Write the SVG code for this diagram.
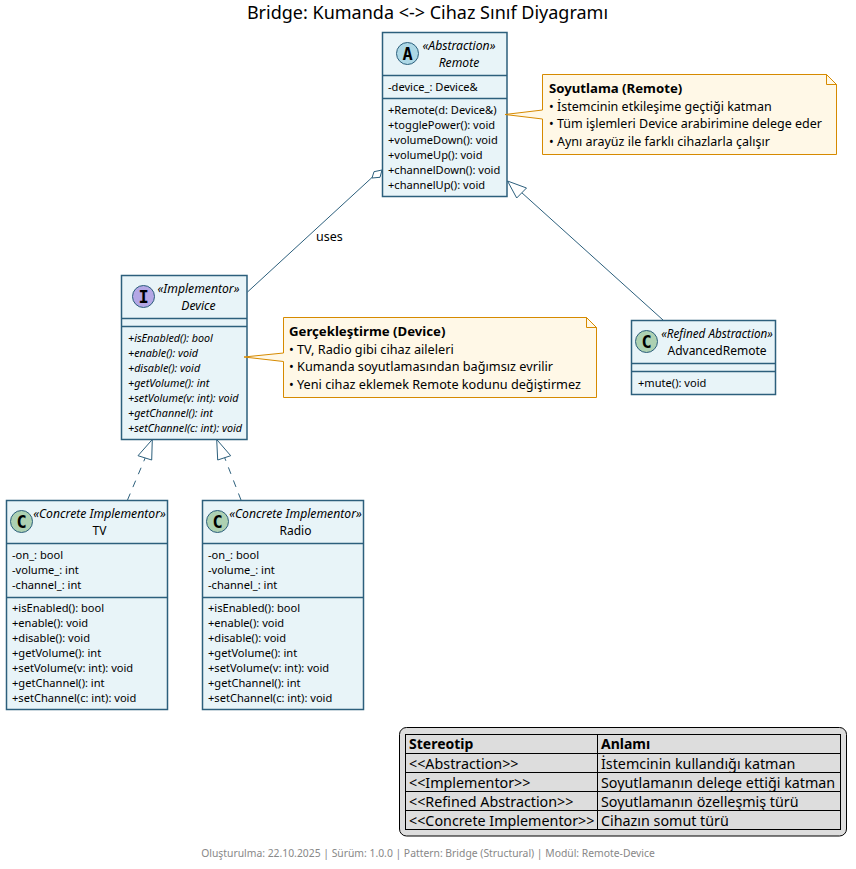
<svg xmlns="http://www.w3.org/2000/svg" width="856" height="869" viewBox="0 0 856 869">
<style>
text{font-family:"Noto Sans","DejaVu Sans",sans-serif;fill:#000}
.box{fill:#E8F4F8;stroke:#2C5F7C;stroke-width:1.5}
.div{stroke:#2C5F7C;stroke-width:1.5;fill:none}
.m{font-size:11.1px}
.i{font-size:10.75px;font-style:italic}
.s{font-size:12.2px;font-style:italic}
.n{font-size:12px}
.c{stroke:#2C5F7C;stroke-width:1;fill:none}
.h{stroke:#2C5F7C;stroke-width:1;fill:#fff}
.note{fill:#FFF8E7;stroke:#D68A00;stroke-width:1}
.nt{font-size:12.5px}
.nu{font-size:12.7px}
.nb{font-size:13.2px;font-weight:bold}
.lt{font-size:14.3px}
.lb{font-size:14px;font-weight:bold}
.cell{stroke:#000;stroke-width:1;fill:none}
.gl{font-family:"DejaVu Sans Mono","Liberation Mono",monospace;font-weight:bold;font-size:17px;text-anchor:middle}
.circ{stroke:#2C5F7C;stroke-width:1}
</style>
<text x="427.5" y="19" font-size="18" text-anchor="middle">Bridge: Kumanda &lt;-&gt; Cihaz Sınıf Diyagramı</text>
<g id="connectors">
<path class="c" d="M247.5,292 L372,177.5"/>
<path class="h" d="M382,170 L374,171.7 L372,178 L380,177.3 Z"/>
<path class="c" d="M663,320 L521,192"/>
<path class="h" d="M507.5,181 L526.5,188 L516.7,198 Z"/>
<path class="c" stroke-dasharray="7,7" d="M127.5,500 L146,456"/>
<path class="h" d="M152.3,439.5 L151.7,460 L138,455.7 Z"/>
<path class="c" stroke-dasharray="7,7" d="M241,500 L224,456"/>
<path class="h" d="M216.7,439.5 L230.7,455.7 L217.7,460 Z"/>
<text x="316" y="241" font-size="12.5">uses</text>
</g>
<g id="Remote">
<rect class="box" x="382.5" y="32.5" width="124.5" height="164"/>
<path class="div" d="M382.5,75.5H507M382.5,98.5H507"/>
<circle class="circ" cx="407.5" cy="53.5" r="11" fill="#ADD8E6"/>
<text class="gl" x="407.5" y="59.5">A</text>
<text class="s" x="459" y="50" text-anchor="middle">«Abstraction»</text>
<text class="s" x="459" y="67" text-anchor="middle">Remote</text>
<text class="m" x="388" y="91">-device_: Device&amp;</text>
<text class="m" x="388" y="114">+Remote(d: Device&amp;)</text>
<text class="m" x="388" y="129">+togglePower(): void</text>
<text class="m" x="388" y="144">+volumeDown(): void</text>
<text class="m" x="388" y="159">+volumeUp(): void</text>
<text class="m" x="388" y="174">+channelDown(): void</text>
<text class="m" x="388" y="189">+channelUp(): void</text>
</g>
<g id="Device">
<rect class="box" x="121.5" y="275.5" width="125.5" height="164"/>
<path class="div" d="M121.5,318.5H247M121.5,326.5H247"/>
<circle class="circ" cx="143.5" cy="296.5" r="11" fill="#B4A7E5"/>
<text class="gl" x="143.5" y="302.5">I</text>
<text class="s" x="198.5" y="293" text-anchor="middle">«Implementor»</text>
<text class="s" x="198.5" y="310" text-anchor="middle">Device</text>
<text class="i" x="128" y="342">+isEnabled(): bool</text>
<text class="i" x="128" y="357">+enable(): void</text>
<text class="i" x="128" y="372">+disable(): void</text>
<text class="i" x="128" y="387">+getVolume(): int</text>
<text class="i" x="128" y="402">+setVolume(v: int): void</text>
<text class="i" x="128" y="417">+getChannel(): int</text>
<text class="i" x="128" y="432">+setChannel(c: int): void</text>
</g>
<g id="AdvancedRemote">
<rect class="box" x="631.5" y="320.5" width="144" height="74"/>
<path class="div" d="M631.5,363.5H775.5M631.5,371.5H775.5"/>
<circle class="circ" cx="646.5" cy="341.5" r="11" fill="#ADD1B2"/>
<text class="gl" x="646.5" y="347.5">C</text>
<text class="s" x="717" y="338" text-anchor="middle" style="font-size:11.7px">«Refined Abstraction»</text>
<text class="n" x="717" y="355" text-anchor="middle">AdvancedRemote</text>
<text class="m" x="638" y="387">+mute(): void</text>
</g>
<g id="TV">
<rect class="box" x="6.5" y="500.5" width="161" height="209"/>
<path class="div" d="M6.5,543.5H167.5M6.5,597.5H167.5"/>
<circle class="circ" cx="21.5" cy="521.5" r="11" fill="#ADD1B2"/>
<text class="gl" x="21.5" y="527.5">C</text>
<text class="s" x="99.5" y="518" text-anchor="middle">«Concrete Implementor»</text>
<text class="n" x="99.5" y="535" text-anchor="middle">TV</text>
<text class="m" x="12" y="559">-on_: bool</text>
<text class="m" x="12" y="574">-volume_: int</text>
<text class="m" x="12" y="589">-channel_: int</text>
<text class="m" x="12" y="612">+isEnabled(): bool</text>
<text class="m" x="12" y="627">+enable(): void</text>
<text class="m" x="12" y="642">+disable(): void</text>
<text class="m" x="12" y="657">+getVolume(): int</text>
<text class="m" x="12" y="672">+setVolume(v: int): void</text>
<text class="m" x="12" y="687">+getChannel(): int</text>
<text class="m" x="12" y="702">+setChannel(c: int): void</text>
</g>
<g id="Radio">
<rect class="box" x="202.5" y="500.5" width="161" height="209"/>
<path class="div" d="M202.5,543.5H363.5M202.5,597.5H363.5"/>
<circle class="circ" cx="217.5" cy="521.5" r="11" fill="#ADD1B2"/>
<text class="gl" x="217.5" y="527.5">C</text>
<text class="s" x="295.5" y="518" text-anchor="middle">«Concrete Implementor»</text>
<text class="n" x="295.5" y="535" text-anchor="middle">Radio</text>
<text class="m" x="208" y="559">-on_: bool</text>
<text class="m" x="208" y="574">-volume_: int</text>
<text class="m" x="208" y="589">-channel_: int</text>
<text class="m" x="208" y="612">+isEnabled(): bool</text>
<text class="m" x="208" y="627">+enable(): void</text>
<text class="m" x="208" y="642">+disable(): void</text>
<text class="m" x="208" y="657">+getVolume(): int</text>
<text class="m" x="208" y="672">+setVolume(v: int): void</text>
<text class="m" x="208" y="687">+getChannel(): int</text>
<text class="m" x="208" y="702">+setChannel(c: int): void</text>
</g>
<g id="note-remote">
<path class="note" d="M542.5,74.5H826.5L836.5,84.5V154.5H542.5V119L505,114.5L542.5,110Z"/>
<path class="note" d="M826.5,74.5V84.5H836.5Z"/>
<text class="nb" x="549" y="93">Soyutlama (Remote)</text>
<text class="nt" x="549" y="111">• İstemcinin etkileşime geçtiği katman</text>
<text class="nt" x="549" y="128">• Tüm işlemleri Device arabirimine delege eder</text>
<text class="nt" x="549" y="146">• Aynı arayüz ile farklı cihazlarla çalışır</text>
</g>
<g id="note-device">
<path class="note" d="M283.5,317.5H586.5L596.5,327.5V397.5H283.5V361.5L244,357L283.5,353Z"/>
<path class="note" d="M586.5,317.5V327.5H596.5Z"/>
<text class="nb" x="289" y="336">Gerçekleştirme (Device)</text>
<text class="nu" x="289" y="354">• TV, Radio gibi cihaz aileleri</text>
<text class="nu" x="289" y="371">• Kumanda soyutlamasından bağımsız evrilir</text>
<text class="nu" x="289" y="389">• Yeni cihaz eklemek Remote kodunu değiştirmez</text>
</g>
<g id="legend">
<rect x="399.5" y="727.5" width="447" height="108.5" rx="7" fill="#DDDDDD" stroke="#000"/>
<rect class="cell" x="405.5" y="734.5" width="435" height="95"/>
<path class="cell" d="M405.5,753.5H840.5M405.5,772.5H840.5M405.5,791.5H840.5M405.5,810.5H840.5M597.5,734.5V829.5"/>
<text class="lb" x="409" y="749">Stereotip</text>
<text class="lb" x="601" y="749">Anlamı</text>
<text class="lt" x="409" y="768.5">&lt;&lt;Abstraction&gt;&gt;</text>
<text class="lt" x="601" y="768.5">İstemcinin kullandığı katman</text>
<text class="lt" x="409" y="787.5">&lt;&lt;Implementor&gt;&gt;</text>
<text class="lt" x="601" y="787.5">Soyutlamanın delege ettiği katman</text>
<text class="lt" x="409" y="806.5">&lt;&lt;Refined Abstraction&gt;&gt;</text>
<text class="lt" x="601" y="806.5">Soyutlamanın özelleşmiş türü</text>
<text class="lt" x="409" y="825.5">&lt;&lt;Concrete Implementor&gt;&gt;</text>
<text class="lt" x="601" y="825.5">Cihazın somut türü</text>
</g>
<text x="428" y="857" font-size="10.35" text-anchor="middle" style="fill:#888888">Oluşturulma: 22.10.2025 | Sürüm: 1.0.0 | Pattern: Bridge (Structural) | Modül: Remote-Device</text>
</svg>
